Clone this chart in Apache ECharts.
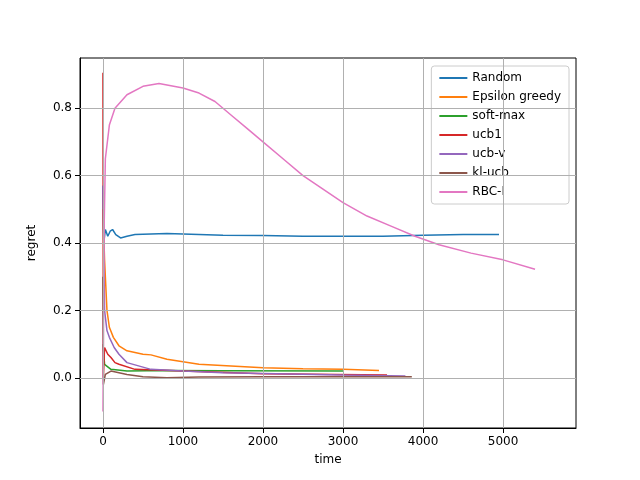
<!DOCTYPE html>
<html>
<head>
<meta charset="UTF-8">
<script src="https://cdn.jsdelivr.net/npm/echarts@6/dist/echarts.min.js"></script>
<style>html,body{margin:0;background:#fff}#container{width:640px;height:480px}</style>
</head>
<body>
<div id="container"></div>
<script type="text/javascript">
// values
var names = ['Random', 'Epsilon greedy', 'soft-max', 'ucb1', 'ucb-v', 'kl-ucb', 'RBC-I'];
var colors = ['#1f77b4', '#ff7f0e', '#2ca02c', '#d62728', '#9467bd', '#8c564b', '#e377c2'];
var xTicks = [0, 1000, 2000, 3000, 4000, 5000];
var yTicks = [0, 0.2, 0.4, 0.6, 0.8];

var randomX = [0, 10, 30, 60, 90, 120, 160, 220, 300, 400, 600, 800, 1200, 1500, 2000, 2500, 3000, 3500, 4000, 4500, 4950];
var randomY = [0.57, 0.40, 0.44, 0.42, 0.435, 0.44, 0.425, 0.415, 0.42, 0.425, 0.427, 0.428, 0.425, 0.423, 0.422, 0.42, 0.42, 0.42, 0.423, 0.425, 0.425];
var epsX = [0, 20, 50, 80, 130, 200, 300, 500, 600, 800, 1200, 1600, 2000, 2500, 3000, 3450];
var epsY = [0.5, 0.35, 0.2, 0.15, 0.12, 0.095, 0.08, 0.07, 0.068, 0.055, 0.04, 0.035, 0.03, 0.027, 0.025, 0.022];
var softX = [0, 20, 100, 300, 800, 1500, 3000];
var softY = [0.1, 0.04, 0.025, 0.02, 0.022, 0.021, 0.02];
var ucb1X = [0, 5, 20, 60, 100, 150, 200, 400, 1000, 2000, 3550];
var ucb1Y = [0.905, 0.0, 0.09, 0.07, 0.06, 0.045, 0.04, 0.025, 0.02, 0.012, 0.008];
var ucbvX = [0, 20, 50, 80, 140, 200, 300, 600, 1000, 1500, 3000, 3780];
var ucbvY = [0.57, 0.2, 0.14, 0.12, 0.09, 0.07, 0.045, 0.025, 0.02, 0.015, 0.008, 0.005];
var klX = [0, 5, 30, 100, 200, 300, 500, 800, 1200, 2000, 3000, 3860];
var klY = [0.3, -0.02, 0.01, 0.02, 0.015, 0.01, 0.003, 0.0, 0.002, 0.003, 0.003, 0.003];
var rbcX = [0, 15, 30, 80, 150, 300, 500, 700, 1000, 1200, 1400, 1600, 1800, 2000, 2250, 2500, 2750, 3000, 3300, 3600, 3900, 4200, 4600, 5000, 5400];
var rbcY = [-0.1, 0.45, 0.65, 0.75, 0.8, 0.84, 0.865, 0.873, 0.86, 0.845, 0.82, 0.78, 0.74, 0.7, 0.65, 0.6, 0.56, 0.52, 0.48, 0.45, 0.42, 0.395, 0.37, 0.35, 0.322];

var allX = [randomX, epsX, softX, ucb1X, ucbvX, klX, rbcX];
var allY = [randomY, epsY, softY, ucb1Y, ucbvY, klY, rbcY];

function pairs(xs, ys) {
	var out = [];
	for (var i = 0; i < xs.length; i++) out.push([xs[i], ys[i]]);
	return out;
}

// grid lines drawn as mark lines, since the tick positions are not multiples of min
var gridLines = [];
xTicks.forEach(function (v) { gridLines.push({ xAxis : v }); });
yTicks.forEach(function (v) { gridLines.push({ yAxis : v }); });

var series = [{
	name : 'grid', type : 'line', data : [], silent : true,
	markLine : { silent : true, symbol : 'none', animation : false, label : { show : false },
		lineStyle : { color : '#b0b0b0', type : 'solid', width : 1 }, data : gridLines }
}];
for (var k = 0; k < names.length; k++) {
	series.push({
		name : names[k],
		type : 'line',
		symbol : 'none',
		animation : false,
		lineStyle : { width : 1.5, color : colors[k] },
		itemStyle : { color : colors[k] },
		data : pairs(allX[k], allY[k])
	});
}

var myChart = echarts.init(document.getElementById('container'));
var font = 'DejaVu Sans';
var option = {
	textStyle : { fontFamily : font },
	grid : { left : 80, right : 64, top : 58, bottom : 52, show : true, borderColor : '#000', borderWidth : 1 },
	legend : {
		orient : 'vertical', right : 71, top : 66,
		backgroundColor : '#fff', borderColor : '#ccc', borderWidth : 1, borderRadius : 3,
		padding : [6, 8, 6, 8], itemGap : 7, itemWidth : 28, itemHeight : 2,
		icon : 'rect',
		textStyle : { fontSize : 12, color : '#000', fontFamily : font },
		data : names
	},
	xAxis : {
		type : 'value', min : -287, max : 5912,
		name : 'time', nameLocation : 'middle', nameGap : 26,
		nameTextStyle : { fontSize : 12, color : '#000' },
		axisLine : { onZero : false, lineStyle : { color : '#000' } },
		axisTick : { show : true, lineStyle : { color : '#000' }, customValues : xTicks },
		axisLabel : { color : '#000', fontSize : 12, customValues : xTicks,
			formatter : function (v) { return String(v); } },
		splitLine : { show : false }
	},
	yAxis : {
		type : 'value', min : -0.149, max : 0.949,
		name : 'regret', nameLocation : 'middle', nameGap : 42,
		nameTextStyle : { fontSize : 12, color : '#000' },
		axisLine : { show : true, onZero : false, lineStyle : { color : '#000' } },
		axisTick : { show : true, lineStyle : { color : '#000' }, customValues : yTicks },
		axisLabel : { color : '#000', fontSize : 12, customValues : yTicks,
			formatter : function (v) { return v.toFixed(1); } },
		splitLine : { show : false }
	},
	series : series
};
myChart.setOption(option);
</script>
</body>
</html>
